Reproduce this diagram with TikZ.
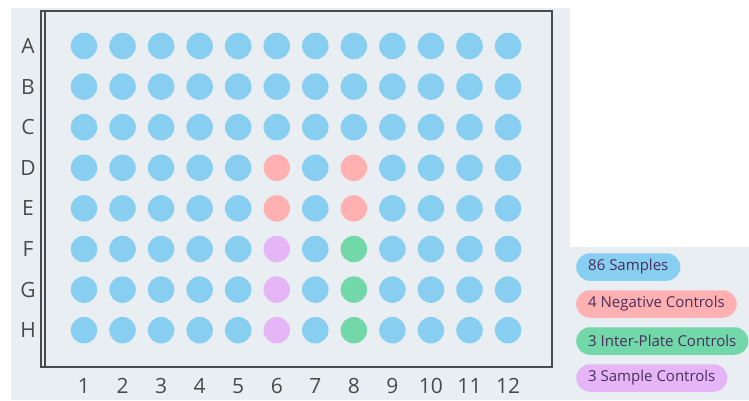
\documentclass[tikz,border=0pt]{standalone}
\usepackage{fontspec}
\setmainfont{Open Sans}
\usepackage{tikz}
\usetikzlibrary{positioning}
\definecolor{platebg}{HTML}{E9EEF2}
\definecolor{plateline}{HTML}{4A4A4A}
\definecolor{wellsample}{HTML}{87CEF0}
\definecolor{wellneg}{HTML}{FFB0B0}
\definecolor{wellinter}{HTML}{72D7A9}
\definecolor{wellsctl}{HTML}{E6B5F5}
\definecolor{legendtext}{HTML}{4B2E5E}
\tikzset{
  plateframe/.style={draw=plateline,line width=1.6pt},
  well/.style={circle,minimum size=26.5pt,inner sep=0pt,fill=wellsample},
  platelabel/.style={font=\fontsize{21}{21}\selectfont,text=plateline,inner sep=0pt},
  legendpill/.style={rounded corners=13.75pt,minimum height=27.5pt,inner xsep=12pt,
                     inner ysep=0pt,anchor=west,font=\fontsize{15}{15}\selectfont,
                     text=legendtext},
  % special wells
  cell D6/.style={fill=wellneg},  cell E6/.style={fill=wellneg},
  cell D8/.style={fill=wellneg},  cell E8/.style={fill=wellneg},
  cell F6/.style={fill=wellsctl}, cell G6/.style={fill=wellsctl},
  cell H6/.style={fill=wellsctl},
  cell F8/.style={fill=wellinter}, cell G8/.style={fill=wellinter},
  cell H8/.style={fill=wellinter}
}

\begin{document}
\begin{tikzpicture}[x=1pt,y=-1pt]
  \useasboundingbox (0,0) rectangle (749,400);
  \fill[white] (0,0) rectangle (749,400);
  \fill[platebg] (11,8) rectangle (570,400);
  \fill[platebg] (570,247) rectangle (749,400);

  % plate outline
  \draw[plateframe] (41,11) rectangle (552,367);
  \draw[plateframe] (45,11) -- (45,367);

  % row and column labels
  \foreach \r [count=\i] in {A,B,C,D,E,F,G,H}
    \node[platelabel] (row-\r) at (28,{46+(\i-1)*40.6}) {\r};
  \foreach \c in {1,...,12}
    \node[platelabel] (col-\c) at ({84+(\c-1)*38.55},386) {\c};

  % wells
  \foreach \r [count=\i] in {A,B,C,D,E,F,G,H}
    \foreach \c in {1,...,12}
      \node[well,cell \r\c/.try] (well-\r\c) at ({84+(\c-1)*38.55},{46+(\i-1)*40.6}) {};

  % legend
  \node[legendpill,fill=wellsample] (leg-samples) at (576,267) {86 Samples};
  \node[legendpill,fill=wellneg] (leg-neg) at (576,304) {4 Negative Controls};
  \node[legendpill,fill=wellinter] (leg-inter) at (576,341) {3 Inter-Plate Controls};
  \node[legendpill,fill=wellsctl] (leg-sctl) at (576,378) {3 Sample Controls};
\end{tikzpicture}
\end{document}
